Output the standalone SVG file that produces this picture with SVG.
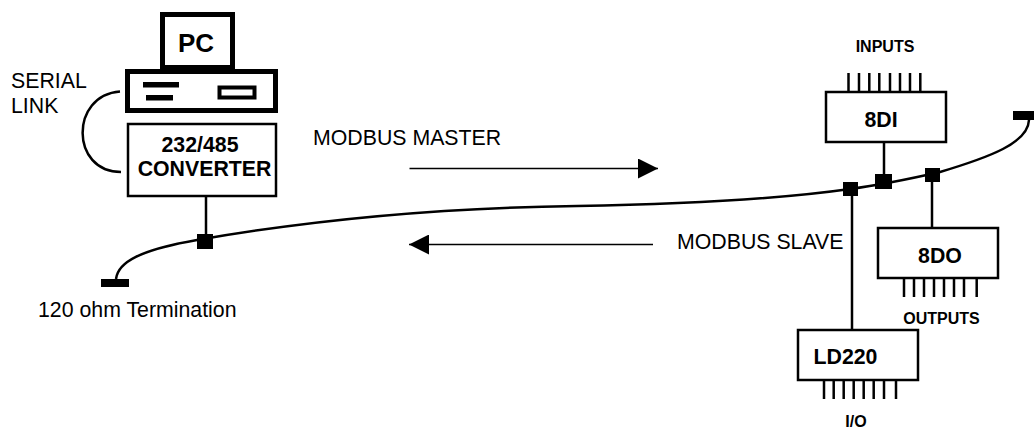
<svg xmlns="http://www.w3.org/2000/svg" width="1034" height="434" viewBox="0 0 1034 434">
<defs>
<marker id="ah" markerUnits="userSpaceOnUse" markerWidth="20" markerHeight="20" refX="20" refY="10" orient="auto"><path d="M0 0L20 10L0 20Z" fill="#000"/></marker>
</defs>
<style>
text{font-family:"Liberation Sans",Arial,sans-serif;fill:#000}
.b{font-weight:bold;text-anchor:middle}
.t{font-size:21.3px}
.m{font-size:21.3px}
.s{font-size:16px}
.box{fill:#fff;stroke:#000;stroke-width:2.5}
.thick{fill:#fff;stroke:#000;stroke-width:5}
.w{fill:none;stroke:#000;stroke-width:2.5}
.a{fill:none;stroke:#000;stroke-width:1.5}
.j{fill:#000}
</style>
<rect width="1034" height="434" fill="#fff"/>
<g id="connectors">
<path class="w" d="M116 279C118 262 140 250 197 240C300 222 420 208 577 206C690 204 780 199 850 189C880 185 905 180 940 172C990 157 1028 143 1029 120"/>
<path class="w" d="M120 91.500C70 95 70 172 121 172"/>
<path class="w" d="M206 197V236"/>
<path class="w" d="M884 143V175"/>
<path class="w" d="M932 182V227"/>
<path class="w" d="M852 196V331"/>
<path class="a" marker-end="url(#ah)" d="M409.500 168.500H658"/>
<path class="a" marker-end="url(#ah)" d="M653 244.500H409"/>
</g>
<g id="junctions">
<rect class="j" x="197" y="234" width="16" height="15"/>
<rect class="j" x="843" y="182" width="15" height="14"/>
<rect class="j" x="875" y="174" width="17" height="15"/>
<rect class="j" x="925" y="168" width="15" height="14"/>
<rect class="j" x="101" y="279" width="28" height="8"/>
<rect class="j" x="1013" y="111" width="21" height="9"/>
</g>
<g id="pc">
<rect class="thick" x="162.500" y="14.500" width="70" height="53"/>
<text class="b" x="196" y="52" font-size="26">PC</text>
<rect class="thick" x="127.500" y="71.500" width="148" height="39"/>
<rect class="j" x="143" y="82" width="36" height="5.500"/>
<rect class="j" x="146" y="95" width="27" height="5.500"/>
<rect x="219.500" y="87.500" width="35" height="10" fill="#fff" stroke="#000" stroke-width="4"/>
</g>
<g id="converter">
<rect class="box" x="128" y="124" width="148" height="72"/>
<text class="b m" x="200" y="152">232/485</text>
<text class="b m" x="204.500" y="176">CONVERTER</text>
</g>
<g id="di">
<rect class="box" x="826" y="92" width="120" height="50"/>
<text class="b m" x="881" y="127">8DI</text>
<path class="w" d="M848.500 73V92M859 73V92M869.300 73V92M879.300 73V92M890 73V92M900 73V92M910 73V92M920.300 73V92"/>
<text class="b s" x="885" y="52">INPUTS</text>
</g>
<g id="do">
<rect class="box" x="878" y="228" width="120" height="50"/>
<text class="b m" x="940" y="263">8DO</text>
<path class="w" d="M904 279V297M914 279V297M924 279V297M934 279V297M944 279V297M954 279V297M964 279V297M976.700 279V297"/>
<text class="b s" x="941.500" y="324">OUTPUTS</text>
</g>
<g id="ld220">
<rect class="box" x="798" y="330" width="120" height="50"/>
<text class="b m" x="845.500" y="364">LD220</text>
<path class="w" d="M824 381V399M833.700 381V399M843.700 381V399M853.700 381V399M863.700 381V399M873.700 381V399M884 381V399M896 381V399"/>
<text class="b s" x="856" y="427">I/O</text>
</g>
<g id="labels">
<text class="t" x="11" y="88">SERIAL</text>
<text class="t" x="11" y="112.500">LINK</text>
<text class="t" x="38" y="317">120 ohm Termination</text>
<text class="t" x="313" y="145">MODBUS MASTER</text>
<text class="t" x="677" y="249">MODBUS SLAVE</text>
</g>
</svg>
